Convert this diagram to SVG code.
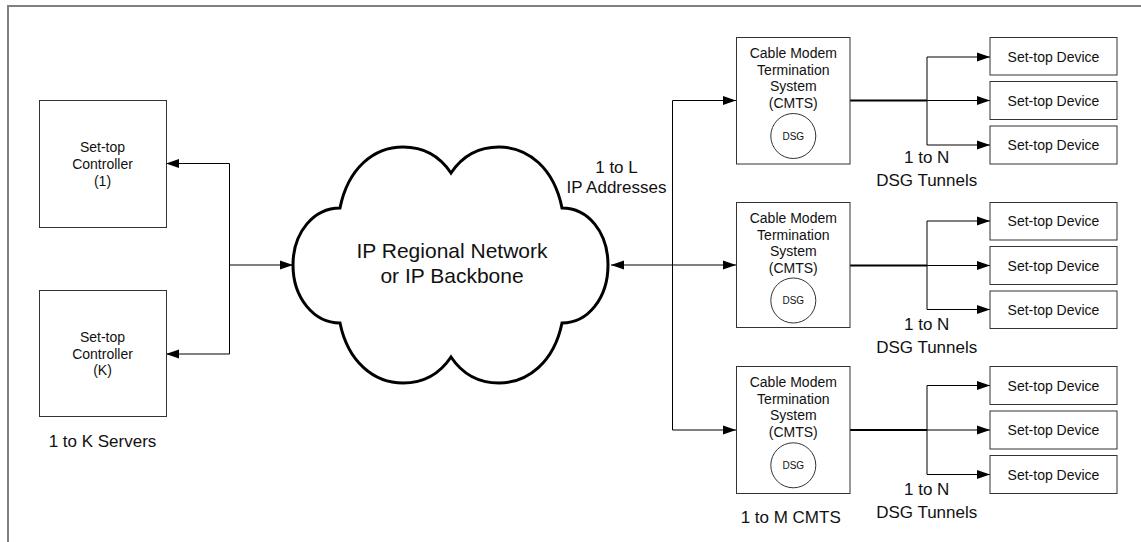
<svg xmlns="http://www.w3.org/2000/svg" width="1141" height="542" viewBox="0 0 1141 542">
<style>
text{font-family:"Liberation Sans",Arial,sans-serif;fill:#111;text-anchor:middle}
.t14{font-size:14px}
.t17{font-size:17px}
.t21{font-size:21px}
.t10{font-size:10px}
.box{fill:#fff;stroke:#333;stroke-width:1}
.ln{fill:none;stroke:#000;stroke-width:1}
.trunk{fill:none;stroke:#000;stroke-width:1.8}
.arr{marker-end:url(#ah)}
</style>
<defs>
<marker id="ah" markerUnits="userSpaceOnUse" markerWidth="14" markerHeight="10" refX="13" refY="5" orient="auto-start-reverse">
<path d="M0,0.5 L13,5 L0,9.5 Z" fill="#000"/>
</marker>
</defs>
<rect width="1141" height="542" fill="#fff"/>
<path d="M8,542 V6 H1141" fill="none" stroke="#808080" stroke-width="2"/>

<g id="connectors">
<path class="ln" d="M229.5,163.5 V354"/>
<path class="ln arr" d="M229.5,163.5 H166"/>
<path class="ln arr" d="M229.5,354 H166"/>
<path class="ln arr" d="M229.5,265 H293"/>
<path class="ln arr" d="M611,265 H736" marker-start="url(#ah)"/>
<path class="ln" d="M672.5,100.5 V430"/>
<path class="ln arr" d="M672.5,100.5 H736"/>
<path class="ln arr" d="M672.5,430 H736"/>
<path class="trunk" d="M850,100.5 H927"/>
<path class="ln" d="M927,57 V145"/>
<path class="ln arr" d="M927,57 H990"/>
<path class="ln arr" d="M927,100.5 H990"/>
<path class="ln arr" d="M927,145 H990"/>
<path class="trunk" d="M850,265.5 H927"/>
<path class="ln" d="M927,221 V309.5"/>
<path class="ln arr" d="M927,221 H990"/>
<path class="ln arr" d="M927,265.5 H990"/>
<path class="ln arr" d="M927,309.5 H990"/>
<path class="trunk" d="M850,430 H927"/>
<path class="ln" d="M927,385.5 V474.5"/>
<path class="ln arr" d="M927,385.5 H990"/>
<path class="ln arr" d="M927,430 H990"/>
<path class="ln arr" d="M927,474.5 H990"/>
</g>

<g id="controller-1">
<rect class="box" x="39.5" y="100.5" width="127" height="127"/>
<text class="t14" x="102.5" y="151.5">Set-top</text>
<text class="t14" x="102.5" y="168.5">Controller</text>
<text class="t14" x="102.5" y="185.5">(1)</text>
</g>
<g id="controller-k">
<rect class="box" x="39.5" y="290.5" width="127" height="126"/>
<text class="t14" x="102.5" y="342">Set-top</text>
<text class="t14" x="102.5" y="358.5">Controller</text>
<text class="t14" x="102.5" y="375">(K)</text>
</g>
<text class="t17" x="102.5" y="446.5">1 to K Servers</text>

<g id="cloud">
<path d="M340,208 C348,168 374,147 403,147 C425,147 441,158 451,173 C461,158 477,147 499,147 C528,147 554,168 562,208 C588,208 608,232 608,265 C608,298 588,323 562,323 C554,362 528,383 499,383 C477,383 461,372 451,357 C441,372 425,383 403,383 C374,383 348,362 340,323 C314,323 293,298 293,265 C293,232 314,208 340,208 Z" fill="#fff" stroke="#000" stroke-width="3" stroke-linejoin="miter"/>
<text class="t21" x="452" y="257.5">IP Regional Network</text>
<text class="t21" x="452" y="282.5">or IP Backbone</text>
</g>
<text class="t17" x="616.5" y="172.5">1 to L</text>
<text class="t17" x="616.5" y="192.5">IP Addresses</text>

<g id="cmts-1">
<rect class="box" x="736.5" y="37.5" width="113.5" height="126.5"/>
<text class="t14" x="793.3" y="57.5">Cable Modem</text>
<text class="t14" x="793.3" y="74.5">Termination</text>
<text class="t14" x="793.3" y="91.3">System</text>
<text class="t14" x="793.3" y="108.3">(CMTS)</text>
<circle cx="793.3" cy="136" r="22.5" fill="#fff" stroke="#333"/>
<text class="t10" x="793.3" y="139.6">DSG</text>
</g>
<g id="cmts-2">
<rect class="box" x="736.5" y="202.5" width="113.5" height="125"/>
<text class="t14" x="793.3" y="222.5">Cable Modem</text>
<text class="t14" x="793.3" y="239.5">Termination</text>
<text class="t14" x="793.3" y="256.3">System</text>
<text class="t14" x="793.3" y="273.3">(CMTS)</text>
<circle cx="793.3" cy="300.5" r="22.5" fill="#fff" stroke="#333"/>
<text class="t10" x="793.3" y="304.1">DSG</text>
</g>
<g id="cmts-3">
<rect class="box" x="736.5" y="366.5" width="113.5" height="127"/>
<text class="t14" x="793.3" y="387">Cable Modem</text>
<text class="t14" x="793.3" y="403.5">Termination</text>
<text class="t14" x="793.3" y="420.3">System</text>
<text class="t14" x="793.3" y="437.3">(CMTS)</text>
<circle cx="793.3" cy="465.3" r="22.5" fill="#fff" stroke="#333"/>
<text class="t10" x="793.3" y="468.9">DSG</text>
</g>
<text class="t17" x="790.7" y="522.7">1 to M CMTS</text>

<g id="std-1a"><rect class="box" x="990" y="37.5" width="127" height="37.5"/><text class="t14" x="1053.5" y="61.5">Set-top Device</text></g>
<g id="std-1b"><rect class="box" x="990" y="81.5" width="127" height="38"/><text class="t14" x="1053.5" y="105.5">Set-top Device</text></g>
<g id="std-1c"><rect class="box" x="990" y="126" width="127" height="38"/><text class="t14" x="1053.5" y="150">Set-top Device</text></g>
<text class="t17" x="926.7" y="162.5">1 to N</text>
<text class="t17" x="926.7" y="186">DSG Tunnels</text>

<g id="std-2a"><rect class="box" x="990" y="202.5" width="127" height="37.5"/><text class="t14" x="1053.5" y="226">Set-top Device</text></g>
<g id="std-2b"><rect class="box" x="990" y="246.5" width="127" height="38"/><text class="t14" x="1053.5" y="270.5">Set-top Device</text></g>
<g id="std-2c"><rect class="box" x="990" y="291" width="127" height="37.5"/><text class="t14" x="1053.5" y="314.5">Set-top Device</text></g>
<text class="t17" x="926.7" y="330.3">1 to N</text>
<text class="t17" x="926.7" y="352.7">DSG Tunnels</text>

<g id="std-3a"><rect class="box" x="990" y="366.5" width="127" height="38"/><text class="t14" x="1053.5" y="390.5">Set-top Device</text></g>
<g id="std-3b"><rect class="box" x="990" y="411" width="127" height="38"/><text class="t14" x="1053.5" y="435">Set-top Device</text></g>
<g id="std-3c"><rect class="box" x="990" y="455.5" width="127" height="38"/><text class="t14" x="1053.5" y="479.5">Set-top Device</text></g>
<text class="t17" x="926.7" y="495.3">1 to N</text>
<text class="t17" x="926.7" y="517.7">DSG Tunnels</text>
</svg>
